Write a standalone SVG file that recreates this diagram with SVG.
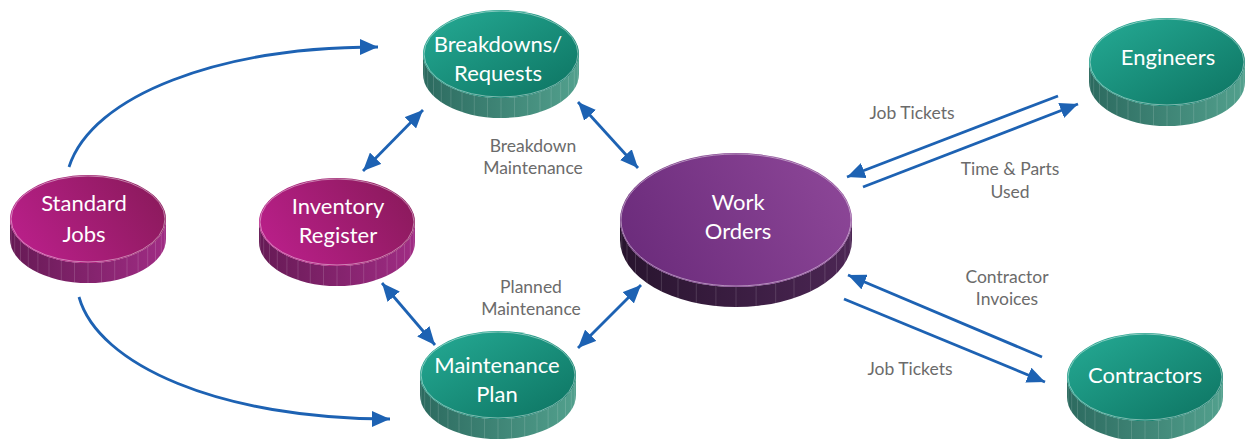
<svg xmlns="http://www.w3.org/2000/svg" xmlns:xlink="http://www.w3.org/1999/xlink" width="1248" height="439" viewBox="0 0 1248 439">
<style>
.nt{font-family:Lato,"Open Sans","Noto Sans",sans-serif;font-size:22px;fill:#ffffff;text-anchor:middle}
.lb{font-family:Lato,"Open Sans","Noto Sans",sans-serif;font-size:17.5px;fill:#6b6b6b;text-anchor:middle}
.cn{fill:none;stroke:#1d62b3;stroke-width:2.8}
.rim{fill:none;stroke:#ffffff;stroke-opacity:0.45;stroke-width:1}
.str{fill:none;stroke:#ffffff;stroke-opacity:0.18;stroke-width:0.8}
</style>
<defs>
<linearGradient id="tealFace" x1="0" y1="0" x2="1" y2="1"><stop offset="0" stop-color="#25ab95"/><stop offset="1" stop-color="#0d7361"/></linearGradient>
<linearGradient id="tealSide" x1="0" y1="0" x2="1" y2="0"><stop offset="0" stop-color="#2c6a5f"/><stop offset="1" stop-color="#52a08d"/></linearGradient>
<linearGradient id="magFace" x1="0" y1="0.6" x2="1" y2="0.2"><stop offset="0" stop-color="#b81f88"/><stop offset="1" stop-color="#8a1a5b"/></linearGradient>
<linearGradient id="magSide" x1="0" y1="0" x2="1" y2="0"><stop offset="0" stop-color="#661a55"/><stop offset="1" stop-color="#a02c84"/></linearGradient>
<linearGradient id="purFace" x1="0" y1="0.6" x2="1" y2="0.3"><stop offset="0" stop-color="#6c2c7c"/><stop offset="1" stop-color="#8c4697"/></linearGradient>
<linearGradient id="purSide" x1="0" y1="0" x2="1" y2="0"><stop offset="0" stop-color="#28142e"/><stop offset="1" stop-color="#4c2654"/></linearGradient>
<path id="sSide" d="M-78,0 L-78,20 A78,44 0 0,0 78,20 L78,0 A78,44 0 0,1 -78,0 Z"/>
<path id="sStr" d="M76.8,7.6v20M73.3,15v20M67.5,22v20M59.7,28.3v20M50.1,33.7v20M39,38.1v20M26.7,41.3v20M13.5,43.3v20M0,44v20M-13.5,43.3v20M-26.7,41.3v20M-39,38.1v20M-50.1,33.7v20M-59.7,28.3v20M-67.5,22v20M-73.3,15v20M-76.8,7.6v20"/>
<g id="cylTeal">
<use xlink:href="#sSide" href="#sSide" fill="url(#tealSide)"/>
<use xlink:href="#sStr" href="#sStr" class="str"/>
<ellipse cx="0" cy="0" rx="78" ry="44" fill="url(#tealFace)"/>
<ellipse cx="0" cy="0" rx="77" ry="43" class="rim"/>
</g>
<g id="cylMag">
<use xlink:href="#sSide" href="#sSide" fill="url(#magSide)"/>
<use xlink:href="#sStr" href="#sStr" class="str"/>
<ellipse cx="0" cy="0" rx="78" ry="44" fill="url(#magFace)"/>
<ellipse cx="0" cy="0" rx="77" ry="43" class="rim"/>
</g>
<marker id="ah" markerUnits="userSpaceOnUse" markerWidth="18" markerHeight="16" refX="18" refY="8" orient="auto-start-reverse" viewBox="0 0 18 16">
<path d="M0,0 L18,8 L0,16 Z" fill="#1d62b3"/>
</marker>
</defs>
<rect width="1248" height="439" fill="#ffffff"/>

<g id="connectors">
<path class="cn" d="M69,167 C92,95 220,47 378,47" marker-end="url(#ah)"/>
<path class="cn" d="M79,297 C98,365 220,419 390,419" marker-end="url(#ah)"/>
<line class="cn" x1="363" y1="171" x2="423" y2="110" marker-start="url(#ah)" marker-end="url(#ah)"/>
<line class="cn" x1="578" y1="102" x2="638" y2="168" marker-start="url(#ah)" marker-end="url(#ah)"/>
<line class="cn" x1="382" y1="283" x2="435" y2="345" marker-start="url(#ah)" marker-end="url(#ah)"/>
<line class="cn" x1="578" y1="348" x2="641" y2="285" marker-start="url(#ah)" marker-end="url(#ah)"/>
<line class="cn" x1="1058" y1="96" x2="847" y2="177" marker-end="url(#ah)"/>
<line class="cn" x1="863" y1="187" x2="1078" y2="104" marker-end="url(#ah)"/>
<line class="cn" x1="1042" y1="357" x2="848" y2="275" marker-end="url(#ah)"/>
<line class="cn" x1="844" y1="299" x2="1045" y2="382" marker-end="url(#ah)"/>
</g>

<g id="labels">
<text class="lb" x="533" y="152">Breakdown</text>
<text class="lb" x="533" y="174">Maintenance</text>
<text class="lb" x="531" y="293">Planned</text>
<text class="lb" x="531" y="315">Maintenance</text>
<text class="lb" x="912" y="119">Job Tickets</text>
<text class="lb" x="1010" y="175">Time &amp; Parts</text>
<text class="lb" x="1010" y="198">Used</text>
<text class="lb" x="1007" y="283">Contractor</text>
<text class="lb" x="1007" y="305">Invoices</text>
<text class="lb" x="910" y="375">Job Tickets</text>
</g>

<g id="node-breakdowns">
<use xlink:href="#cylTeal" href="#cylTeal" transform="translate(501,54)"/>
<text class="nt" x="498" y="52">Breakdowns/</text>
<text class="nt" x="498" y="81">Requests</text>
</g>

<g id="node-standard-jobs">
<use xlink:href="#cylMag" href="#cylMag" transform="translate(88,219)"/>
<text class="nt" x="84" y="211">Standard</text>
<text class="nt" x="84" y="242">Jobs</text>
</g>

<g id="node-inventory-register">
<use xlink:href="#cylMag" href="#cylMag" transform="translate(337,222)"/>
<text class="nt" x="338" y="214">Inventory</text>
<text class="nt" x="338" y="243">Register</text>
</g>

<g id="node-maintenance-plan">
<use xlink:href="#cylTeal" href="#cylTeal" transform="translate(498,375)"/>
<text class="nt" x="497" y="373">Maintenance</text>
<text class="nt" x="497" y="402">Plan</text>
</g>

<g id="node-work-orders">
<g transform="translate(736,220)">
<path d="M-116,0 L-116,20 A116,67 0 0,0 116,20 L116,0 A116,67 0 0,1 -116,0 Z" fill="url(#purSide)"/>
<path class="str" d="M114.2,11.6v20M109,22.9v20M100.5,33.5v20M88.9,43.1v20M74.6,51.3v20M58,58v20M39.7,63v20M20.1,66v20M0,67v20M-20.1,66v20M-39.7,63v20M-58,58v20M-74.6,51.3v20M-88.9,43.1v20M-100.5,33.5v20M-109,22.9v20M-114.2,11.6v20"/>
<ellipse cx="0" cy="0" rx="116" ry="67" fill="url(#purFace)"/>
<ellipse cx="0" cy="0" rx="115" ry="66" class="rim"/>
</g>
<text class="nt" x="738" y="210">Work</text>
<text class="nt" x="738" y="239">Orders</text>
</g>

<g id="node-engineers">
<use xlink:href="#cylTeal" href="#cylTeal" transform="translate(1167,62)"/>
<text class="nt" x="1168" y="65">Engineers</text>
</g>

<g id="node-contractors">
<use xlink:href="#cylTeal" href="#cylTeal" transform="translate(1145,377)"/>
<text class="nt" x="1145" y="383">Contractors</text>
</g>
</svg>
